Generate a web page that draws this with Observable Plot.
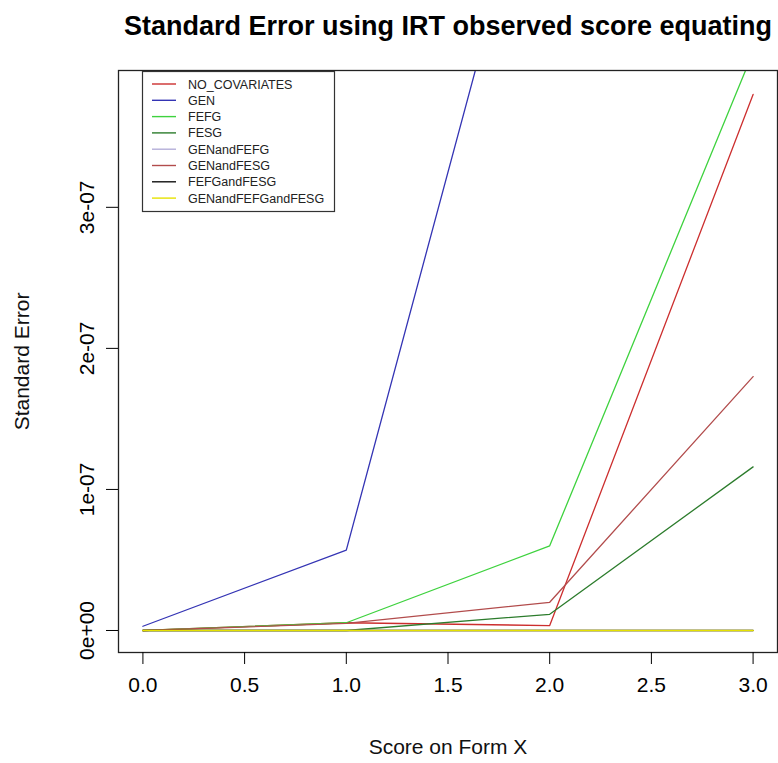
<!DOCTYPE html>
<html>
<head>
<meta charset="utf-8">
<script src="https://cdn.jsdelivr.net/npm/d3@7"></script>
<script src="https://cdn.jsdelivr.net/npm/@observablehq/plot@0.6"></script>
<style>
  html, body { margin: 0; padding: 0; background: #fff; }
  #chart { width: 778px; height: 763px; overflow: hidden; }
  svg { font-family: "Liberation Sans", Arial, sans-serif; }
</style>
</head>
<body>
<div id="chart"></div>
<script>
const scores = [0, 1, 2, 3];
const seriesNames = ["NO_COVARIATES", "GEN", "FEFG", "FESG", "GENandFEFG", "GENandFESG", "FEFGandFESG", "GENandFEFGandFESG"];
const seriesColors = ["#cc2e2e", "#3434b4", "#3ed23e", "#2c7c2c", "#b4aed8", "#b24c4c", "#111111", "#e6e200"];
const noCovariates   = [0, 5.5e-9, 3.5e-9, 3.8e-7];
const gen            = [3e-9, 5.7e-8, 5.93e-7, 1.2e-6];
const fefg           = [0, 5.5e-9, 6.0e-8, 4.1e-7];
const fesg           = [0, 0, 1.15e-8, 1.16e-7];
const genAndFefg     = [0, 0, 0, 0];
const genAndFesg     = [0, 5.0e-9, 2.0e-8, 1.8e-7];
const fefgAndFesg    = [0, 0, 0, 0];
const genFefgFesg    = [0, 0, 0, 0];
const seriesValues = [noCovariates, gen, fefg, fesg, genAndFefg, genAndFesg, fefgAndFesg, genFefgFesg];
const xTicks = [0, 0.5, 1, 1.5, 2, 2.5, 3];
const xTickLabels = ["0.0", "0.5", "1.0", "1.5", "2.0", "2.5", "3.0"];
const yTicks = [0, 1e-7, 2e-7, 3e-7];
const yTickLabels = ["0e+00", "1e-07", "2e-07", "3e-07"];
const titleText = "Standard Error using IRT observed score equating";
const xLabel = "Score on Form X";
const yLabel = "Standard Error";

const rows = [];
seriesNames.forEach((name, i) => {
  scores.forEach((s, j) => rows.push({series: name, x: s, y: seriesValues[i][j]}));
});

const lineMarks = seriesNames.map((name, i) =>
  Plot.line(rows.filter(d => d.series === name), {
    x: "x", y: "y", stroke: seriesColors[i],
    strokeWidth: i === 7 ? 1.6 : 1.3, clip: true
  })
);

const plot = Plot.plot({
  width: 778,
  height: 763,
  marginLeft: 118,
  marginRight: 1,
  marginTop: 70,
  marginBottom: 111,
  style: {fontFamily: "Liberation Sans, Arial, sans-serif", fontSize: "21px", color: "#000", background: "#fff"},
  x: {domain: [-0.12, 3.12]},
  y: {domain: [-0.156e-7, 3.97e-7]},
  marks: [
    ...lineMarks,
    Plot.frame({stroke: "#222", strokeWidth: 1.3}),
    Plot.axisX({ticks: xTicks, tickFormat: d => xTickLabels[xTicks.indexOf(d)], tickSize: 12, tickPadding: 13, fontSize: 21, label: null}),
    Plot.axisY({ticks: yTicks, tickFormat: d => yTickLabels[yTicks.indexOf(d)], tickSize: 12, tickPadding: 13, tickRotate: -90, fontSize: 21, label: null}),
    Plot.text([xLabel], {frameAnchor: "bottom", dy: 101, fontSize: 21, fill: "#111", textAnchor: "middle"}),
    Plot.text([yLabel], {frameAnchor: "left", dx: -96, rotate: -90, fontSize: 21, fill: "#111", textAnchor: "middle"}),
    Plot.text([titleText], {frameAnchor: "top", dy: -55, fontSize: 27, fontWeight: "bold", fill: "#000", textAnchor: "middle"})
  ]
});

document.getElementById("chart").appendChild(plot);

// Legend (R-style, top-left inside the plot box)
const svg = d3.select(plot);
const lg = svg.append("g").attr("class", "legend").attr("text-anchor", "start");
lg.append("rect")
  .attr("x", 142.5).attr("y", 71.5).attr("width", 192).attr("height", 140)
  .attr("fill", "#fff").attr("stroke", "#333").attr("stroke-width", 1.2);
seriesNames.forEach((name, i) => {
  const y = 84 + i * 16.3;
  lg.append("line").attr("x1", 152).attr("x2", 176).attr("y1", y).attr("y2", y)
    .attr("stroke", seriesColors[i]).attr("stroke-width", 1.4);
  lg.append("text").attr("x", 188).attr("y", y).attr("dy", "0.36em")
    .attr("text-anchor", "start")
    .attr("font-size", 12.5).attr("fill", "#222").text(name);
});
</script>
</body>
</html>
